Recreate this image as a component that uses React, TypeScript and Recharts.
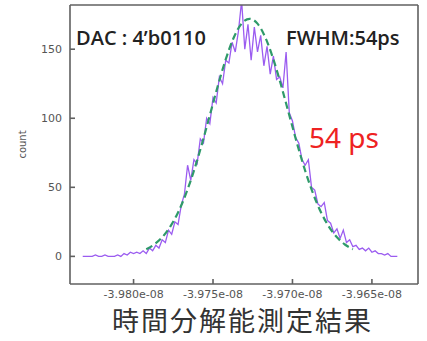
import React from 'react'
import { LineChart, Line, XAxis, YAxis } from 'recharts'

// time in ps (axis shows it as e-08 s)
const rawTime = [
  -39832, -39830, -39828, -39826, -39824, -39822, -39820, -39818, -39816, -39814,
  -39812, -39810, -39808, -39806, -39804, -39802, -39800, -39798, -39796, -39794,
  -39792, -39790, -39788, -39786, -39784, -39782, -39780, -39778, -39776, -39774,
  -39772, -39770, -39768, -39766, -39764, -39762, -39760, -39758, -39756, -39754,
  -39752, -39750, -39748, -39746, -39744, -39742, -39740, -39738, -39736, -39734,
  -39732, -39730, -39728, -39726, -39724, -39722, -39720, -39718, -39716, -39714,
  -39712, -39710, -39708, -39706, -39704, -39702, -39700, -39698, -39696, -39694,
  -39692, -39690, -39688, -39686, -39684, -39682, -39680, -39678, -39676, -39674,
  -39672, -39670, -39668, -39666, -39664, -39662, -39660, -39658, -39656, -39654,
  -39652, -39650, -39648, -39646, -39644, -39642, -39640, -39638, -39636, -39634,
]
const rawCount = [
  0, 0, 0, 0, 1, 0, 0, 1, 0, 0,
  0, 1, 0, 2, 1, 3, 2, 3, 2, 4,
  2, 6, 4, 8, 6, 12, 10, 19, 16, 25,
  23, 37, 45, 66, 55, 70, 67, 85, 82, 100,
  96, 115, 111, 130, 125, 142, 140, 155, 148, 163,
  185, 150, 168, 142, 166, 148, 160, 138, 152, 132,
  145, 128, 130, 122, 148, 104, 98, 86, 82, 70,
  66, 70, 50, 48, 38, 36, 39, 26, 24, 17,
  20, 13, 19, 10, 12, 7, 8, 5, 6, 4,
  6, 3, 4, 2, 2, 1, 2, 0, 0, 0,
]

const fitTime = [
  -39792, -39787, -39782, -39777, -39772, -39767, -39762, -39757, -39752, -39747,
  -39742, -39737, -39732, -39727, -39722, -39717, -39712, -39707, -39702, -39697,
  -39692, -39687, -39682, -39677, -39672, -39667, -39662,
]
const fitCount = [
  5.1, 8.6, 13.8, 21.4, 31.8, 45.4, 62, 81.3, 102.2, 123.3,
  142.6, 158.3, 168.5, 172, 168.5, 158.3, 142.6, 123.3, 102.2, 81.3,
  62, 45.4, 31.8, 21.4, 13.8, 8.6, 5.1,
]

const xTicks = [-39800, -39750, -39700, -39650]
const yTicks = [0, 50, 100, 150]

const rawData = rawTime.map((t, i) => ({ t, count: rawCount[i] }))
const fitData = fitTime.map((t, i) => ({ t, count: fitCount[i] }))

const fmtX = (v: number) => (v / 10000).toFixed(3) + 'e-08'

const tickStyle = { fill: '#555', fontSize: 11, fontFamily: 'DejaVu Sans' }
const frame = { stroke: '#606060', strokeWidth: 1.6 }
const note = {
  position: 'absolute' as const,
  fontFamily: 'Open Sans',
  fontWeight: 600,
  whiteSpace: 'nowrap' as const,
  lineHeight: 1,
}

export default function App() {
  return (
    <div style={{ position: 'absolute', left: 0, top: 0, width: 427, height: 341, background: '#fff' }}>
      <LineChart
        width={427}
        height={341}
        margin={{ top: 0, right: 0, bottom: 0, left: 0 }}
      >
        <XAxis
          xAxisId="bottom"
          dataKey="t"
          type="number"
          domain={[-39840, -39621]}
          ticks={xTicks}
          tickFormatter={fmtX}
          height={57}
          tickSize={-5}
          tickMargin={11}
          axisLine={frame}
          tickLine={frame}
          tick={tickStyle}
          allowDataOverflow
        />
        <XAxis
          xAxisId="top"
          orientation="top"
          dataKey="t"
          type="number"
          domain={[-39840, -39621]}
          ticks={xTicks}
          height={5}
          tickSize={-5}
          tick={false}
          axisLine={frame}
          tickLine={frame}
          allowDataOverflow
        />
        <YAxis
          yAxisId="left"
          type="number"
          domain={[-20, 182]}
          ticks={yTicks}
          width={70}
          tickSize={-5}
          tickMargin={13}
          axisLine={frame}
          tickLine={frame}
          tick={tickStyle}
          allowDataOverflow
          label={{
            value: 'count',
            angle: -90,
            position: 'insideLeft',
            offset: 22,
            style: { fill: '#555', fontSize: 10, fontFamily: 'DejaVu Sans', textAnchor: 'middle' },
          }}
        />
        <YAxis
          yAxisId="right"
          orientation="right"
          type="number"
          domain={[-20, 182]}
          ticks={yTicks}
          width={9}
          tickSize={-5}
          tick={false}
          axisLine={frame}
          tickLine={frame}
          allowDataOverflow
        />
        <Line
          data={rawData}
          xAxisId="bottom"
          yAxisId="left"
          dataKey="count"
          type="linear"
          stroke="#9b5cf0"
          strokeWidth={1.3}
          dot={false}
          isAnimationActive={false}
        />
        <Line
          data={fitData}
          xAxisId="bottom"
          yAxisId="left"
          dataKey="count"
          type="monotone"
          stroke="#2f9a6a"
          strokeWidth={2.2}
          strokeDasharray="7 4"
          dot={false}
          isAnimationActive={false}
        />
      </LineChart>
      <div style={{ ...note, left: 76, top: 28, fontSize: 20, color: '#222' }}>
        DAC : 4’b0110
      </div>
      <div style={{ ...note, left: 286, top: 28, fontSize: 20, color: '#222' }}>
        FWHM:54ps
      </div>
      <div
        style={{
          ...note, left: 309, top: 123, fontSize: 28, color: '#ee2222',
          fontFamily: 'Noto Sans', fontWeight: 400,
        }}
      >
        54 ps
      </div>
      <div
        style={{
          ...note, left: 112, top: 305, fontSize: 27, letterSpacing: 2, color: '#333',
          fontFamily: 'Noto Sans CJK JP', fontWeight: 400, lineHeight: '30px',
        }}
      >
        時間分解能測定結果
      </div>
    </div>
  )
}
